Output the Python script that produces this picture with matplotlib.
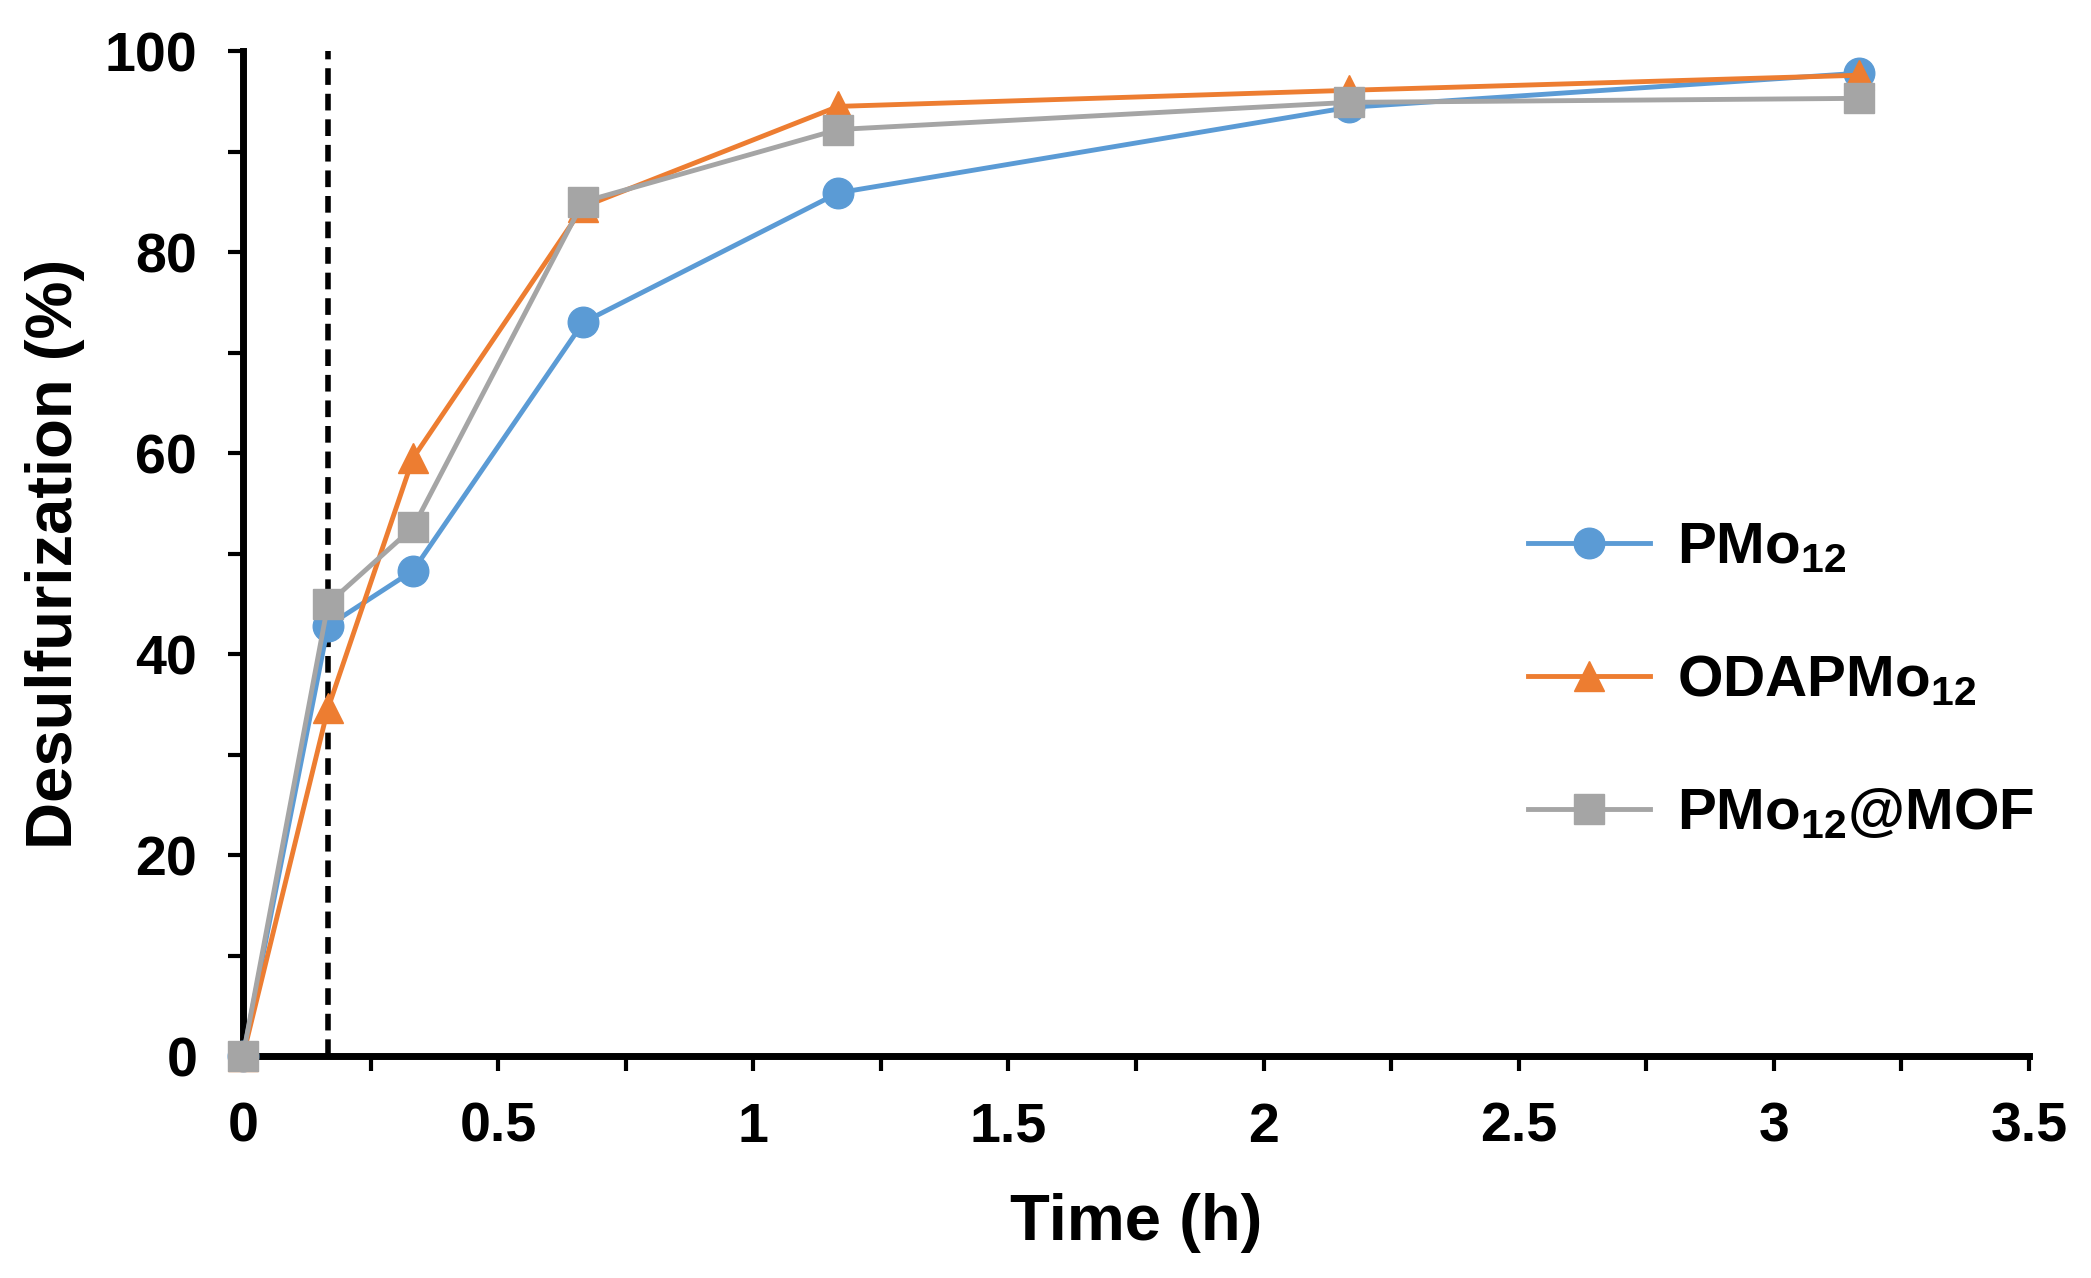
import numpy as np
import matplotlib
matplotlib.use('Agg')
import matplotlib.pyplot as plt
from matplotlib.ticker import MultipleLocator

# time points in hours (0, 10, 20, 40, 70, 130, 190 min)
time_h = [0, 1 / 6, 1 / 3, 2 / 3, 7 / 6, 13 / 6, 19 / 6]

pmo12 = [0, 42.8, 48.3, 73.0, 85.9, 94.4, 97.8]
odapmo12 = [0, 34.6, 59.5, 84.5, 94.5, 96.1, 97.6]
pmo12_mof = [0, 45.0, 52.6, 85.0, 92.2, 94.9, 95.3]

series_labels = [r'PMo$_{\mathregular{12}}$', r'ODAPMo$_{\mathregular{12}}$', r'PMo$_{\mathregular{12}}$@MOF']
colors = ['#5B9BD5', '#ED7D31', '#A5A5A5']
markers = ['o', '^', 's']

cutoff_time = 1 / 6

plt.rcParams['font.family'] = ['Liberation Sans', 'DejaVu Sans']
plt.rcParams['font.weight'] = 'bold'
plt.rcParams['mathtext.default'] = 'regular'

fig = plt.figure(figsize=(20.91, 12.78), dpi=100)
ax = fig.add_axes([0.1162, 0.1737, 0.8541, 0.7863])

for values, label, color, marker in zip([pmo12, odapmo12, pmo12_mof], series_labels, colors, markers):
    ax.plot(time_h, values, color=color, marker=marker, markersize=22, linewidth=3.5,
            label=label, clip_on=False, zorder=3)

ax.plot([cutoff_time, cutoff_time], [0, 100], color='black', linewidth=4,
        dashes=(3.0, 1.6), zorder=2)

ax.set_xlim(0, 3.5)
ax.set_ylim(0, 100)

ax.xaxis.set_major_locator(MultipleLocator(0.5))
ax.xaxis.set_minor_locator(MultipleLocator(0.25))
ax.yaxis.set_major_locator(MultipleLocator(20))
ax.yaxis.set_minor_locator(MultipleLocator(10))
ax.set_xticks([0, 0.5, 1, 1.5, 2, 2.5, 3, 3.5])
ax.set_xticklabels(['0', '0.5', '1', '1.5', '2', '2.5', '3', '3.5'])

for side in ['top', 'right']:
    ax.spines[side].set_visible(False)
for side in ['left', 'bottom']:
    ax.spines[side].set_linewidth(5)

ax.tick_params(which='both', direction='out', length=11, width=3)
ax.tick_params(axis='y', which='major', labelsize=40, pad=22)
ax.tick_params(axis='x', which='major', labelsize=40, pad=22)

ax.set_xlabel('Time (h)', fontsize=47, fontweight='bold', labelpad=28)
ax.set_ylabel('Desulfurization (%)', fontsize=47, fontweight='bold', labelpad=14)

ax.legend(loc='center left', bbox_to_anchor=(0.69, 0.373), frameon=False, fontsize=42,
          handlelength=2.1, labelspacing=1.35, handletextpad=0.45, markerscale=1.0)

fig.savefig('out.png', dpi=100)
